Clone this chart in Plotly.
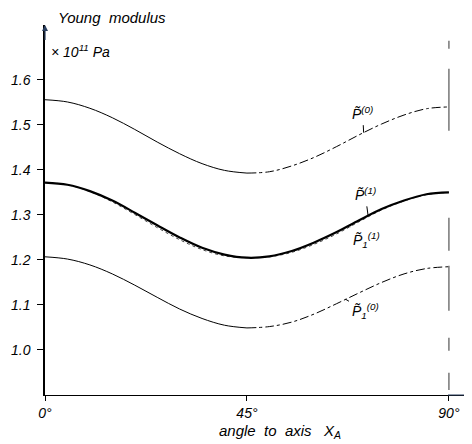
import plotly.graph_objects as go

angle = [0, 5, 10, 15, 20, 25, 30, 35, 40, 45, 50, 55, 60, 65, 70, 75, 80, 85, 90]
p0_top = [1.556, 1.551, 1.537, 1.516, 1.490, 1.462, 1.436, 1.414, 1.399, 1.393,
          1.396, 1.409, 1.428, 1.452, 1.478, 1.502, 1.522, 1.536, 1.540]
p1_mid = [1.372, 1.367, 1.353, 1.332, 1.305, 1.277, 1.250, 1.227, 1.212, 1.205,
          1.208, 1.220, 1.239, 1.262, 1.288, 1.313, 1.332, 1.346, 1.350]
p1_1_mid = [1.372, 1.367, 1.352, 1.329, 1.301, 1.272, 1.245, 1.223, 1.209, 1.205,
            1.207, 1.217, 1.235, 1.258, 1.285, 1.311, 1.331, 1.345, 1.350]
p1_0_bot = [1.207, 1.202, 1.189, 1.169, 1.144, 1.117, 1.091, 1.070, 1.055, 1.049,
            1.052, 1.062, 1.080, 1.103, 1.127, 1.150, 1.169, 1.181, 1.185]

y_ticks = [1.0, 1.1, 1.2, 1.3, 1.4, 1.5, 1.6]
y_tick_text = ["1.0", "1.1", "1.2", "1.3", "1.4", "1.5", "1.6"]
x_ticks = [0, 45, 90]
x_tick_text = ["0°", "45°", "90°"]
ref_x = [90, 90]
ref_y = [1.687, 0.911]

SPLIT = 9  # index of 45 degrees
FONT = "Liberation Sans"

fig = go.Figure()

def add(xs, ys, width, dash, color="black"):
    fig.add_trace(go.Scatter(x=xs, y=ys, mode="lines",
                             line=dict(color=color, width=width, dash=dash, shape="spline"),
                             showlegend=False, hoverinfo="skip"))

# top curve: solid then dash-dot
add(angle[:SPLIT + 1], p0_top[:SPLIT + 1], 1, "solid")
add(angle[SPLIT:], p0_top[SPLIT:], 1, "dashdot")
# middle curves
add(angle, p1_1_mid, 1, "dot", "#444444")
add(angle, p1_mid, 2.2, "solid")
# bottom curve
add(angle[:SPLIT + 1], p1_0_bot[:SPLIT + 1], 1, "solid")
add(angle[SPLIT:], p1_0_bot[SPLIT:], 1, "dashdot")
# broken vertical reference line at 90 deg
fig.add_trace(go.Scatter(x=ref_x, y=ref_y, mode="lines",
                         line=dict(color="#777777", width=1.5,
                                   dash="8px,20px,62px,87px,33px,15px,45px,27px,13px,22px,18px,60px"),
                         showlegend=False, hoverinfo="skip"))

lab_font = dict(family=FONT, size=14, color="black", style="italic")

def interp(xs, ys, x):
    for i in range(len(xs) - 1):
        if xs[i] <= x <= xs[i + 1]:
            t = (x - xs[i]) / (xs[i + 1] - xs[i])
            return ys[i] + t * (ys[i + 1] - ys[i])
    return ys[-1]

def curve_label(text, xv, ys, ax, ay):
    fig.add_annotation(x=xv, y=interp(angle, ys, xv), text=text, showarrow=True, arrowhead=0,
                       arrowwidth=1, arrowcolor="black", ax=ax, ay=ay, font=lab_font,
                       standoff=0, startstandoff=2)

curve_label("P̃<sup>(0)</sup>", 71, p0_top, -1, -20)
curve_label("P̃<sup>(1)</sup>", 72, p1_mid, -3, -22)
curve_label("P̃<sub>1</sub><sup>(1)</sup>", 68, p1_1_mid, 16, 13)
curve_label("P̃<sub>1</sub><sup>(0)</sup>", 67, p1_0_bot, 20, 12)

# axis arrows
fig.add_annotation(x=0, y=1.722, xref="x", yref="y", showarrow=True, arrowhead=2, arrowsize=1,
                   arrowwidth=1.2, ax=0, ay=25, text=" ", standoff=0)
fig.add_annotation(x=94.7, y=0.9, xref="x", yref="y", showarrow=True, arrowhead=2, arrowsize=1,
                   arrowwidth=1.2, ax=-25, ay=0, text=" ", standoff=0)

# texts
fig.add_annotation(x=0.026, y=1.02, xref="paper", yref="paper", text="Young  modulus", showarrow=False,
                   font=dict(family=FONT, size=15, color="black", style="italic"),
                   xanchor="left", yanchor="middle")
fig.add_annotation(x=0.01, y=0.93, xref="paper", yref="paper", text="× 10<sup>11</sup> Pa",
                   showarrow=False, xanchor="left", yanchor="middle",
                   font=dict(family=FONT, size=14, color="black", style="italic"))
fig.add_annotation(x=0.553, y=-0.098, xref="paper", yref="paper",
                   text="angle  to  axis   X<sub>A</sub>", showarrow=False,
                   xanchor="center", yanchor="middle",
                   font=dict(family=FONT, size=15, color="black", style="italic"))

fig.update_layout(
    width=472, height=444,
    margin=dict(l=37, r=10, t=17, b=57),
    paper_bgcolor="white", plot_bgcolor="white",
    xaxis=dict(range=[0, 94.7], tickvals=x_ticks, ticktext=x_tick_text, showgrid=False, zeroline=False,
               showline=True, linecolor="black", linewidth=1.2, ticks="outside", ticklen=5,
               tickcolor="black", automargin=False,
               tickfont=dict(family=FONT, size=14, color="black", style="italic")),
    yaxis=dict(range=[0.9, 1.722], tickvals=y_ticks, ticktext=y_tick_text, showgrid=False,
               zeroline=False, showline=True, linecolor="black", linewidth=1.5, ticks="outside",
               ticklen=6, tickcolor="black", ticklabelstandoff=4, automargin=False,
               tickfont=dict(family=FONT, size=14, color="black", style="italic")),
)

fig.write_html("out.html")
